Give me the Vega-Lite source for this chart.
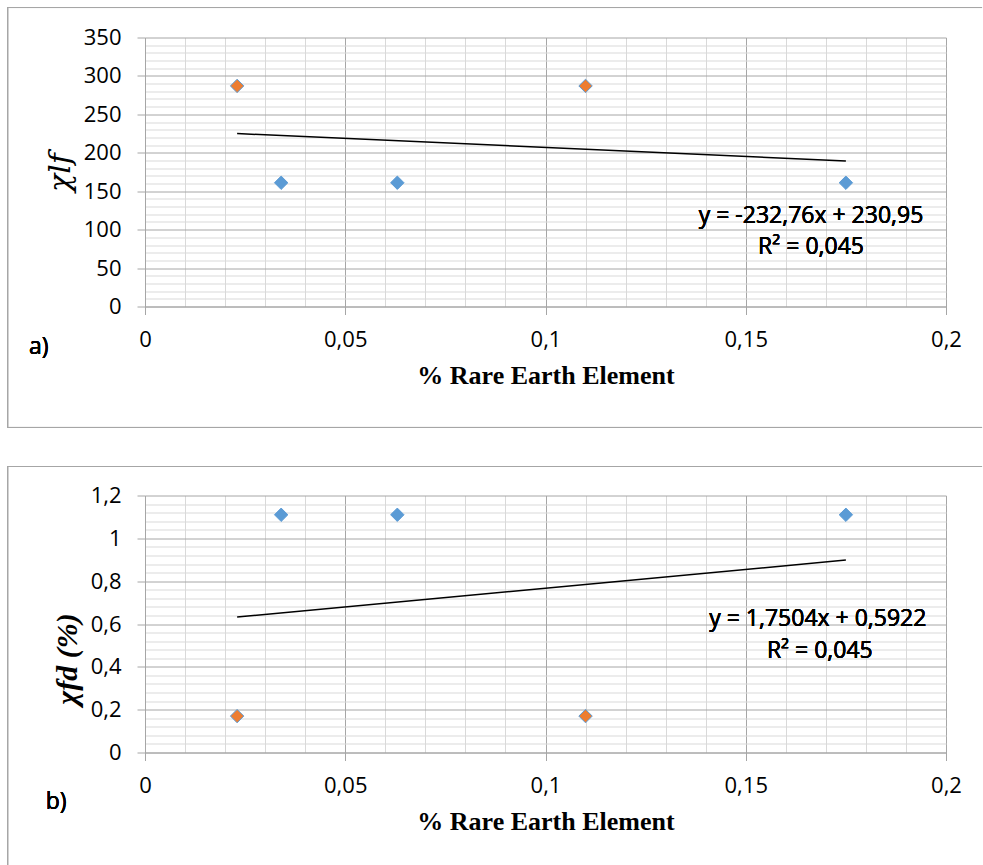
{
  "$schema": "https://vega.github.io/schema/vega-lite/v6.json",
  "background": "white",
  "padding": {"left": 7, "top": 6.5, "right": 0, "bottom": 0},
  "spacing": 37,
  "config": {
    "font": "Open Sans",
    "view": {"stroke": null},
    "axis": {
      "labelFont": "Open Sans",
      "labelFontSize": 22,
      "labelFontWeight": "normal",
      "labelColor": "#000000",
      "titleColor": "#000000",
      "domainColor": "#a6a6a6",
      "tickColor": "#a6a6a6",
      "tickSize": 8,
      "gridWidth": 1,
      "labelFlush": false,
      "labelOverlap": false
    },
    "text": {"font": "Open Sans", "fontWeight": "normal"}
  },
  "datasets": {
    "a": [
      {"x": 0.023, "y": 287, "s": "2"},
      {"x": 0.034, "y": 161, "s": "1"},
      {"x": 0.063, "y": 161, "s": "1"},
      {"x": 0.11, "y": 287, "s": "2"},
      {"x": 0.175, "y": 161, "s": "1"}
    ],
    "b": [
      {"x": 0.023, "y": 0.17, "s": "2"},
      {"x": 0.034, "y": 1.11, "s": "1"},
      {"x": 0.063, "y": 1.11, "s": "1"},
      {"x": 0.11, "y": 0.17, "s": "2"},
      {"x": 0.175, "y": 1.11, "s": "1"}
    ]
  },
  "vconcat": [
    {
      "width": 801,
      "height": 269,
      "data": {"name": "a"},
      "layer": [
        {
          "mark": {"type": "point", "opacity": 0},
          "encoding": {
            "x": {"field": "x", "type": "quantitative", "scale": {"domain": [0, 0.2], "nice": false},
              "axis": {"orient": "top", "values": [0.01,0.02,0.03,0.04,0.06,0.07,0.08,0.09,0.11,0.12,0.13,0.14,0.16,0.17,0.18,0.19], "grid": true, "gridColor": "#d9d9d9", "labels": false, "ticks": false, "domain": false, "title": null}},
            "y": {"field": "y", "type": "quantitative", "scale": {"domain": [0, 350], "nice": false},
              "axis": {"orient": "right", "values": [10,20,30,40,60,70,80,90,110,120,130,140,160,170,180,190,210,220,230,240,260,270,280,290,310,320,330,340], "grid": true, "gridColor": "#d9d9d9", "labels": false, "ticks": false, "domain": false, "title": null}}
          }
        },
        {
          "mark": {"type": "point", "shape": "diamond", "filled": true, "size": 180, "opacity": 1, "stroke": "#5B9BD5", "strokeWidth": 1},
          "encoding": {
            "x": {"field": "x", "type": "quantitative", "scale": {"domain": [0, 0.2], "nice": false},
              "axis": {"orient": "bottom", "values": [0, 0.05, 0.1, 0.15, 0.2], "grid": true, "gridColor": "#a6a6a6", "format": "~g", "labelExpr": "replace(datum.label,'.',',')", "labelPadding": 15, "title": "% Rare Earth Element", "titleFont": "Liberation Serif", "titleFontWeight": "bold", "titleFontSize": 26, "titlePadding": 12}},
            "y": {"field": "y", "type": "quantitative", "scale": {"domain": [0, 350], "nice": false},
              "axis": {"orient": "left", "values": [0, 50, 100, 150, 200, 250, 300, 350], "grid": true, "gridColor": "#a6a6a6", "labelPadding": 16, "title": "χlf", "titleFont": "DejaVu Serif", "titleFontStyle": "italic", "titleFontWeight": "normal", "titleFontSize": 30, "titlePadding": 8}},
            "fill": {"field": "s", "type": "nominal", "scale": {"domain": ["1", "2"], "range": ["#5B9BD5", "#ED7D31"]}, "legend": null}
          }
        },
        {
          "transform": [{"regression": "y", "on": "x"}],
          "mark": {"type": "line", "color": "#000000", "strokeWidth": 1.5},
          "encoding": {
            "x": {"field": "x", "type": "quantitative", "axis": null},
            "y": {"field": "y", "type": "quantitative", "axis": null}
          }
        },
        {
          "mark": {"type": "text", "fontSize": 23, "color": "#000000", "align": "center", "baseline": "middle"},
          "encoding": {
            "x": {"datum": 0.1663, "type": "quantitative", "axis": null},
            "y": {"datum": 118.4, "type": "quantitative", "axis": null},
            "text": {"value": "y = -232,76x + 230,95"}
          }
        },
        {
          "mark": {"type": "text", "fontSize": 23, "color": "#000000", "align": "center", "baseline": "middle"},
          "encoding": {
            "x": {"datum": 0.1663, "type": "quantitative", "axis": null},
            "y": {"datum": 76.8, "type": "quantitative", "axis": null},
            "text": {"value": "R² = 0,045"}
          }
        },
        {
          "mark": {"type": "text", "fontSize": 23, "color": "#000000", "align": "center", "baseline": "middle"},
          "encoding": {
            "x": {"datum": -0.0265, "type": "quantitative", "axis": null},
            "y": {"datum": -53.3, "type": "quantitative", "axis": null},
            "text": {"value": "a)"}
          }
        },
        {
          "mark": {"type": "rule", "color": "#a6a6a6", "strokeWidth": 1},
          "encoding": {
            "x": {"datum": -0.0343, "type": "quantitative", "axis": null},
            "x2": {"datum": 0.209},
            "y": {"datum": 389, "type": "quantitative", "axis": null}
          }
        },
        {
          "mark": {"type": "rule", "color": "#a6a6a6", "strokeWidth": 1},
          "encoding": {
            "x": {"datum": -0.0343, "type": "quantitative", "axis": null},
            "x2": {"datum": 0.209},
            "y": {"datum": -157.4, "type": "quantitative", "axis": null}
          }
        },
        {
          "mark": {"type": "rule", "color": "#a6a6a6", "strokeWidth": 1},
          "encoding": {
            "x": {"datum": -0.0343, "type": "quantitative", "axis": null},
            "y": {"datum": 389, "type": "quantitative", "axis": null},
            "y2": {"datum": -157.4}
          }
        }
      ],
      "resolve": {"axis": {"x": "independent", "y": "independent"}}
    },
    {
      "width": 801,
      "height": 257,
      "data": {"name": "b"},
      "layer": [
        {
          "mark": {"type": "point", "opacity": 0},
          "encoding": {
            "x": {"field": "x", "type": "quantitative", "scale": {"domain": [0, 0.2], "nice": false},
              "axis": {"orient": "top", "values": [0.01,0.02,0.03,0.04,0.06,0.07,0.08,0.09,0.11,0.12,0.13,0.14,0.16,0.17,0.18,0.19], "grid": true, "gridColor": "#d9d9d9", "labels": false, "ticks": false, "domain": false, "title": null}},
            "y": {"field": "y", "type": "quantitative", "scale": {"domain": [0, 1.2], "nice": false},
              "axis": {"orient": "right", "values": [0.04,0.08,0.12,0.16,0.24,0.28,0.32,0.36,0.44,0.48,0.52,0.56,0.64,0.68,0.72,0.76,0.84,0.88,0.92,0.96,1.04,1.08,1.12,1.16], "grid": true, "gridColor": "#d9d9d9", "labels": false, "ticks": false, "domain": false, "title": null}}
          }
        },
        {
          "mark": {"type": "point", "shape": "diamond", "filled": true, "size": 180, "opacity": 1, "stroke": "#5B9BD5", "strokeWidth": 1},
          "encoding": {
            "x": {"field": "x", "type": "quantitative", "scale": {"domain": [0, 0.2], "nice": false},
              "axis": {"orient": "bottom", "values": [0, 0.05, 0.1, 0.15, 0.2], "grid": true, "gridColor": "#a6a6a6", "format": "~g", "labelExpr": "replace(datum.label,'.',',')", "labelPadding": 15, "title": "% Rare Earth Element", "titleFont": "Liberation Serif", "titleFontWeight": "bold", "titleFontSize": 26, "titlePadding": 12}},
            "y": {"field": "y", "type": "quantitative", "scale": {"domain": [0, 1.2], "nice": false},
              "axis": {"orient": "left", "values": [0, 0.2, 0.4, 0.6, 0.8, 1, 1.2], "grid": true, "gridColor": "#a6a6a6", "format": "~g", "labelExpr": "replace(datum.label,'.',',')", "labelPadding": 16, "title": "χfd (%)", "titleFont": "Liberation Serif", "titleFontStyle": "italic", "titleFontWeight": "bold", "titleFontSize": 30, "titlePadding": 8, "titleY": 163}},
            "fill": {"field": "s", "type": "nominal", "scale": {"domain": ["1", "2"], "range": ["#5B9BD5", "#ED7D31"]}, "legend": null}
          }
        },
        {
          "transform": [{"regression": "y", "on": "x"}],
          "mark": {"type": "line", "color": "#000000", "strokeWidth": 1.5},
          "encoding": {
            "x": {"field": "x", "type": "quantitative", "axis": null},
            "y": {"field": "y", "type": "quantitative", "axis": null}
          }
        },
        {
          "mark": {"type": "text", "fontSize": 23, "color": "#000000", "align": "center", "baseline": "middle"},
          "encoding": {
            "x": {"datum": 0.168, "type": "quantitative", "axis": null},
            "y": {"datum": 0.6256, "type": "quantitative", "axis": null},
            "text": {"value": "y = 1,7504x + 0,5922"}
          }
        },
        {
          "mark": {"type": "text", "fontSize": 23, "color": "#000000", "align": "center", "baseline": "middle"},
          "encoding": {
            "x": {"datum": 0.1685, "type": "quantitative", "axis": null},
            "y": {"datum": 0.476, "type": "quantitative", "axis": null},
            "text": {"value": "R² = 0,045"}
          }
        },
        {
          "mark": {"type": "text", "fontSize": 23, "color": "#000000", "align": "center", "baseline": "middle"},
          "encoding": {
            "x": {"datum": -0.0222, "type": "quantitative", "axis": null},
            "y": {"datum": -0.2334, "type": "quantitative", "axis": null},
            "text": {"value": "b)"}
          }
        },
        {
          "mark": {"type": "rule", "color": "#a6a6a6", "strokeWidth": 1},
          "encoding": {
            "x": {"datum": -0.0343, "type": "quantitative", "axis": null},
            "x2": {"datum": 0.209},
            "y": {"datum": 1.3354, "type": "quantitative", "axis": null}
          }
        },
        {
          "mark": {"type": "rule", "color": "#a6a6a6", "strokeWidth": 1},
          "encoding": {
            "x": {"datum": -0.0343, "type": "quantitative", "axis": null},
            "y": {"datum": 1.3354, "type": "quantitative", "axis": null},
            "y2": {"datum": -0.5276}
          }
        }
      ],
      "resolve": {"axis": {"x": "independent", "y": "independent"}}
    }
  ]
}
